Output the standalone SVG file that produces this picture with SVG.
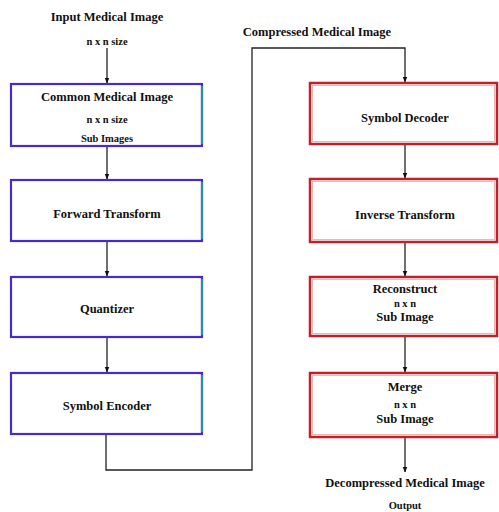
<svg xmlns="http://www.w3.org/2000/svg" width="499" height="512" viewBox="0 0 499 512">
<style>
text{font-family:'Liberation Serif','Times New Roman','DejaVu Serif',serif;font-weight:700;font-size:12.5px;fill:#111;text-anchor:middle;dominant-baseline:central}
text.s{font-size:10.5px}
.enc{fill:#fff;stroke:#4a2ad0;stroke-width:2.2}
.teal{stroke:#2a8fa0;stroke-width:2.2}
.dec{fill:#fff;stroke:#c41f25;stroke-width:2.5}
.dec2{fill:none;stroke:#f2b5b5;stroke-width:1}
.ln{fill:none;stroke:#222;stroke-width:1.3}
</style>
<defs>
<marker id="ah" viewBox="0 0 10 10" refX="9" refY="5" markerWidth="6" markerHeight="6" orient="auto" markerUnits="userSpaceOnUse">
<path d="M0,1 L10,5 L0,9 Z" fill="#111"/>
</marker>
</defs>
<rect width="499" height="512" fill="#fff"/>
<g id="labels">
<text x="107" y="17">Input Medical Image</text>
<text class="s" x="107" y="41">n x n size</text>
<text x="317" y="32">Compressed Medical Image</text>
<text x="405" y="483">Decompressed Medical Image</text>
<text class="s" x="405" y="505">Output</text>
</g>
<g id="connectors">
<line class="ln" x1="107" y1="48" x2="107" y2="83" marker-end="url(#ah)"/>
<line class="ln" x1="107" y1="146" x2="107" y2="179" marker-end="url(#ah)"/>
<line class="ln" x1="107" y1="241" x2="107" y2="276" marker-end="url(#ah)"/>
<line class="ln" x1="107" y1="337" x2="107" y2="372" marker-end="url(#ah)"/>
<polyline class="ln" points="106,434 106,470 252,470 252,48 405,48 405,82" marker-end="url(#ah)"/>
<line class="ln" x1="405" y1="144" x2="405" y2="178" marker-end="url(#ah)"/>
<line class="ln" x1="405" y1="242" x2="405" y2="276" marker-end="url(#ah)"/>
<line class="ln" x1="405" y1="336" x2="405" y2="372" marker-end="url(#ah)"/>
<line class="ln" x1="405" y1="437" x2="405" y2="472" marker-end="url(#ah)"/>
</g>
<g id="compress">
<rect class="enc" x="11" y="84" width="191" height="62"/>
<line class="teal" x1="202" y1="86" x2="202" y2="144"/>
<text x="107" y="97">Common Medical Image</text>
<text class="s" x="107" y="119">n x n size</text>
<text class="s" x="107" y="138">Sub Images</text>
</g>
<g id="forward">
<rect class="enc" x="11" y="180" width="191" height="61"/>
<line class="teal" x1="202" y1="182" x2="202" y2="239"/>
<text x="107" y="214">Forward Transform</text>
</g>
<g id="quantizer">
<rect class="enc" x="11" y="277" width="191" height="60"/>
<line class="teal" x1="202" y1="279" x2="202" y2="335"/>
<text x="107" y="309">Quantizer</text>
</g>
<g id="encoder">
<rect class="enc" x="11" y="373" width="191" height="61"/>
<line class="teal" x1="202" y1="375" x2="202" y2="432"/>
<text x="107" y="406">Symbol Encoder</text>
</g>
<g id="decoder">
<rect class="dec" x="310" y="83" width="187" height="61"/>
<rect class="dec2" x="312.5" y="85.5" width="182" height="56"/>
<text x="405" y="118">Symbol Decoder</text>
</g>
<g id="inverse">
<rect class="dec" x="310" y="179" width="187" height="63"/>
<rect class="dec2" x="312.5" y="181.5" width="182" height="58"/>
<text x="405" y="215">Inverse Transform</text>
</g>
<g id="reconstruct">
<rect class="dec" x="310" y="277" width="187" height="59"/>
<rect class="dec2" x="312.5" y="279.5" width="182" height="54"/>
<text x="405" y="289">Reconstruct</text>
<text class="s" x="405" y="303">n x n</text>
<text x="405" y="317">Sub Image</text>
</g>
<g id="merge">
<rect class="dec" x="310" y="373" width="187" height="64"/>
<rect class="dec2" x="312.5" y="375.5" width="182" height="59"/>
<text x="405" y="387">Merge</text>
<text class="s" x="405" y="404">n x n</text>
<text x="405" y="419">Sub Image</text>
</g>
</svg>
